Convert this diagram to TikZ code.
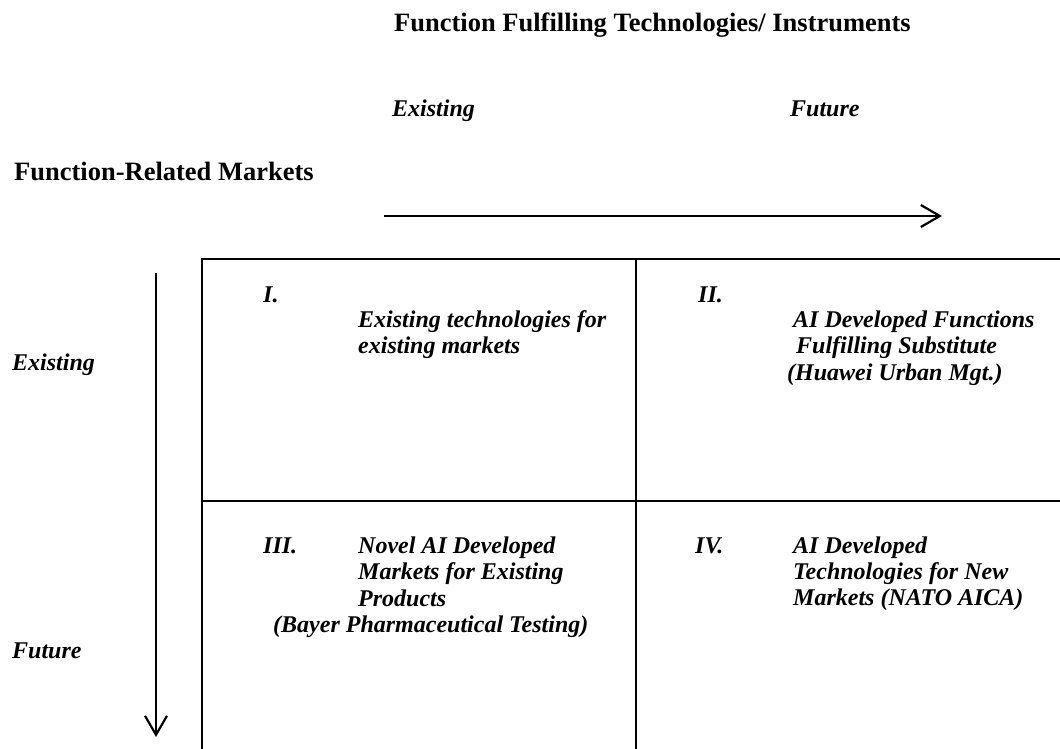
\documentclass[tikz,border=0pt]{standalone}
\usepackage{fontspec}
\setmainfont{Liberation Serif}
\usetikzlibrary{arrows.meta}
\begin{document}
\begin{tikzpicture}[x=1pt,y=-1pt,
  head/.style={font=\fontsize{26.5}{30}\selectfont\bfseries, anchor=base west, inner sep=0pt},
  lab/.style={font=\fontsize{24}{26.5}\selectfont\bfseries\itshape, anchor=base west, inner sep=0pt},
  gridline/.style={line width=2.7pt},
  axis/.style={line width=2.2pt, -{Straight Barb[length=19pt,width=22pt]}}]
\useasboundingbox (0,0) rectangle (1060,749);
\clip (0,0) rectangle (1060,749);
% headings
\node[head] (title) at (394,32) {Function Fulfilling Technologies/ Instruments};
\node[lab] (colA) at (392,117) {Existing};
\node[lab] (colB) at (790,117) {Future};
\node[head] (rowhead) at (14,180) {Function-Related Markets};
\node[lab] (rowA) at (12,370) {Existing};
\node[lab] (rowB) at (12,658) {Future};
% axes
\coordinate (hs) at (384,216);
\coordinate (he) at (942,216);
\draw[axis] (hs) -- (he);
\coordinate (vs) at (156,273);
\coordinate (ve) at (156,737);
\draw[axis] (vs) -- (ve);
% grid
\draw[gridline] (202,770) -- (202,259) -- (1080,259);
\draw[gridline] (636,259) -- (636,770);
\draw[gridline] (202,501) -- (1080,501);
% cell I
\node[lab] (n1) at (263,302) {I.};
\node[lab] (t1a) at (358,327) {Existing technologies for};
\node[lab] (t1b) at (358,353) {existing markets};
% cell II
\node[lab] (n2) at (698,302) {II.};
\node[lab] (t2a) at (793,327) {AI Developed Functions};
\node[lab] (t2b) at (796,353) {Fulfilling Substitute};
\node[lab] (t2c) at (787,380) {(Huawei Urban Mgt.)};
% cell III
\node[lab] (n3) at (263,553) {III.};
\node[lab] (t3a) at (358,553) {Novel AI Developed};
\node[lab] (t3b) at (358,579) {Markets for Existing};
\node[lab] (t3c) at (358,606) {Products};
\node[lab] (t3d) at (273,632) {(Bayer Pharmaceutical Testing)};
% cell IV
\node[lab] (n4) at (695,553) {IV.};
\node[lab] (t4a) at (793,553) {AI Developed};
\node[lab] (t4b) at (793,579) {Technologies for New};
\node[lab] (t4c) at (793,605) {Markets (NATO AICA)};
\end{tikzpicture}
\end{document}
